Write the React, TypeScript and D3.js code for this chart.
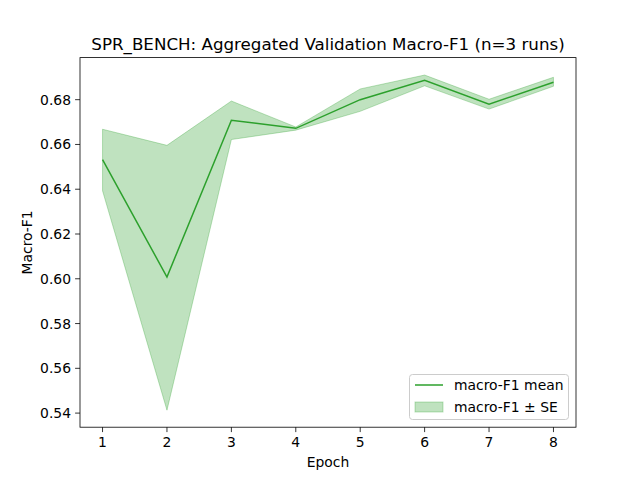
import React from "react";
import * as d3 from "d3";

const epochs = [1, 2, 3, 4, 5, 6, 7, 8];
const meanF1 = [0.6532, 0.6008, 0.6708, 0.6672, 0.6800, 0.6887, 0.6780, 0.6878];
const upperF1 = [0.6668, 0.6596, 0.6794, 0.6678, 0.6848, 0.6910, 0.6802, 0.6900];
const lowerF1 = [0.6393, 0.5413, 0.6622, 0.6664, 0.6748, 0.6862, 0.6758, 0.6860];
const yTicks = [0.54, 0.56, 0.58, 0.60, 0.62, 0.64, 0.66, 0.68];

export default function App() {
  const L = 80, R = 576, T = 57.6, B = 427.2;
  const x = d3.scaleLinear().domain([0.65, 8.35]).range([L, R]);
  const y = d3.scaleLinear().domain([0.5337, 0.6988]).range([B, T]);
  const green = "#2ca02c";
  const area = d3.area<number>().x((_, i) => x(epochs[i])).y0((_, i) => y(lowerF1[i])).y1((d) => y(d))(upperF1)!;
  const line = d3.line<number>().x((_, i) => x(epochs[i])).y((d) => y(d))(meanF1)!;
  const font = "DejaVu Sans, sans-serif";
  return (
    <svg width={640} height={480} style={{ position: "absolute", left: 0, top: 0, background: "#fff" }} fontFamily={font}>
      <path d={area} fill={green} fillOpacity={0.3} stroke={green} strokeOpacity={0.3} />
      <path d={line} fill="none" stroke={green} strokeWidth={1.5} />
      <rect x={L} y={T} width={R - L} height={B - T} fill="none" stroke="#000" strokeWidth={0.8} />
      {epochs.map((e) => (
        <g key={e}>
          <line x1={x(e)} x2={x(e)} y1={B} y2={B + 4.9} stroke="#000" strokeWidth={0.8} />
          <text x={x(e)} y={B + 20} fontSize={13.9} textAnchor="middle">{e}</text>
        </g>
      ))}
      {yTicks.map((t) => (
        <g key={t}>
          <line x1={L - 4.9} x2={L} y1={y(t)} y2={y(t)} stroke="#000" strokeWidth={0.8} />
          <text x={L - 9} y={y(t) + 5} fontSize={13.9} textAnchor="end">{t.toFixed(2)}</text>
        </g>
      ))}
      <text x={(L + R) / 2} y={467} fontSize={13.9} textAnchor="middle">Epoch</text>
      <text transform={`translate(32,${(T + B) / 2}) rotate(-90)`} fontSize={13.9} textAnchor="middle">Macro-F1</text>
      <text x={(L + R) / 2} y={50} fontSize={16.7} textAnchor="middle">SPR_BENCH: Aggregated Validation Macro-F1 (n=3 runs)</text>
      <g>
        <rect x={409.5} y={374.5} width={159} height={45} rx={3} fill="#fff" fillOpacity={0.8} stroke="#ccc" />
        <line x1={415} x2={443} y1={385} y2={385} stroke={green} strokeWidth={1.5} />
        <text x={454} y={390} fontSize={13.9}>macro-F1 mean</text>
        <rect x={415} y={402} width={28} height={10} fill={green} fillOpacity={0.3} stroke={green} strokeOpacity={0.3} />
        <text x={454} y={412} fontSize={13.9}>macro-F1 ± SE</text>
      </g>
    </svg>
  );
}
